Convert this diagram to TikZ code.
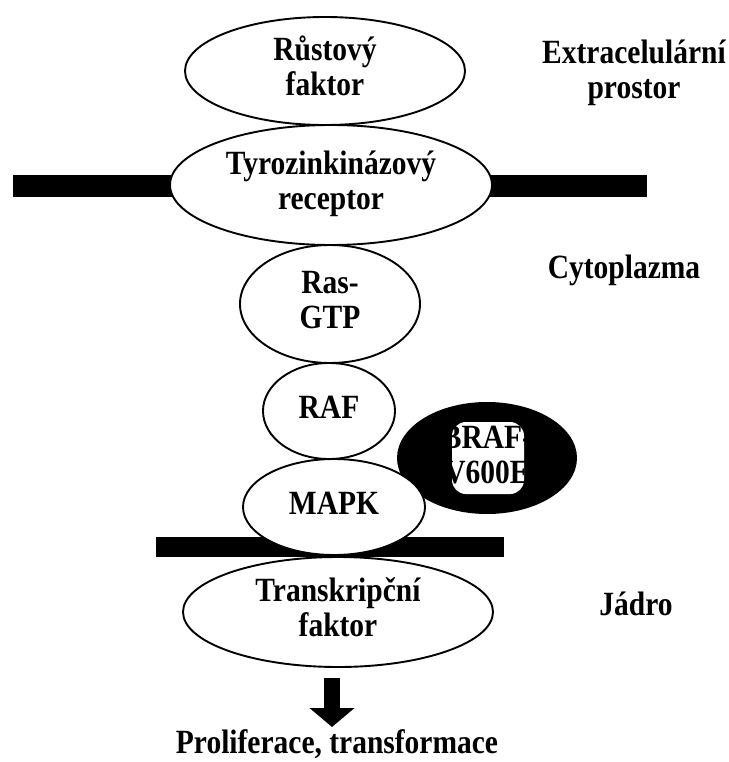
\documentclass[tikz,border=0pt]{standalone}
\usepackage{fontspec}
\usepackage{graphicx}
\setmainfont{Liberation Serif}
\usetikzlibrary{shapes.geometric,arrows.meta}
% tall, slightly condensed bold lettering
\newcommand{\tallbold}[1]{\scalebox{1}[1.15]{\begin{tabular}{@{}c@{}}#1\end{tabular}}}
\tikzset{
  x=1pt, y=-1pt,
  lbl/.style={font=\fontsize{29.5}{31}\selectfont\bfseries, inner sep=0pt},
  cell/.style={ellipse, draw=black, line width=1.9pt, fill=white, inner sep=0pt, lbl},
  membrane/.style={fill=black},
  bigarrow/.style={line width=16pt, -{Triangle[width=44pt,length=19pt]}},
}
\begin{document}
\begin{tikzpicture}
\useasboundingbox (0,0) rectangle (728,762);

% membranes
\fill[membrane] (13,175) rectangle (647,197);
\fill[membrane] (156,537) rectangle (504,557);

% mutant kinase (lies behind the MAPK ellipse)
\node[ellipse, fill=black, inner sep=0pt, minimum width=180pt, minimum height=112pt] (braf) at (487,458) {};
\fill[white, rounded corners=14pt] (452,422) rectangle (524,494);
\node[lbl] (braftxt) at (487,459) {\tallbold{BRAF-\\V600E}};

% signalling cascade
\node[cell, minimum width=280pt, minimum height=108pt] (gf) at (325,71) {\tallbold{Růstový\\faktor}};
\node[cell, minimum width=322pt, minimum height=120pt] (rtk) at (331,185) {\tallbold{Tyrozinkinázový\\receptor}};
\node[cell, minimum width=180pt, minimum height=118pt] (ras) at (330,304) {\tallbold{Ras-\\GTP}};
\node[cell, minimum width=132pt, minimum height=96pt] (raf) at (329,411) {\tallbold{RAF}};
\node[cell, minimum width=182pt, minimum height=96pt] (mapk) at (334,507) {\tallbold{MAPK}};
\node[cell, minimum width=310pt, minimum height=110pt] (tf) at (338,612) {\tallbold{Transkripční\\faktor}};

% output
\coordinate (arrS) at (332,678);
\coordinate (arrE) at (332,727);
\draw[bigarrow] (arrS) -- (arrE);
\node[lbl] (out) at (337,746) {\tallbold{Proliferace, transformace}};

% compartments
\node[lbl] (extra) at (634,74) {\tallbold{Extracelulární\\prostor}};
\node[lbl] (cyto) at (624,271) {\tallbold{Cytoplazma}};
\node[lbl] (nuc) at (636,608) {\tallbold{Jádro}};
\end{tikzpicture}
\end{document}
